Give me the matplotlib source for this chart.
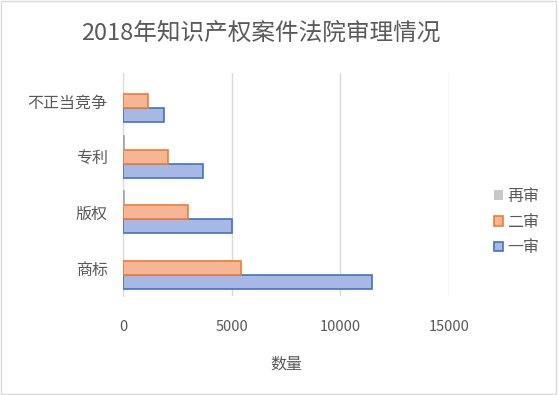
import matplotlib
matplotlib.use("Agg")
import matplotlib.pyplot as plt
import numpy as np
from matplotlib.patches import Rectangle

plt.rcParams['font.family'] = ['Noto Sans CJK SC', 'DejaVu Sans']

# data (bottom to top)
categories = ["商标", "版权", "专利", "不正当竞争"]
yishen = [11450, 5020, 3680, 1890]
ershen = [5430, 2990, 2070, 1150]
zaishen = [0, 50, 50, 0]

grey = "#595959"

fig = plt.figure(figsize=(5.58, 3.95), dpi=100)
ax = fig.add_axes([123/558, 1-296/395, (449-123)/558, (296-73)/395])

y = np.arange(len(categories))
h = 0.25
ax.barh(y - h, yishen, height=h, color="#a8b8e4", edgecolor="#4472c4", linewidth=1.2, label="一审", zorder=3)
ax.barh(y, ershen, height=h, color="#f6b696", edgecolor="#ed7d31", linewidth=1.2, label="二审", zorder=3)
ax.barh(y + h, zaishen, height=h, color="#c8c8c8", edgecolor="#a5a5a5",
        linewidth=[1.2 if v > 0 else 0 for v in zaishen], label="再审", zorder=3)

ax.set_xlim(0, 15000)
ax.set_ylim(-0.5, 3.5)
ax.set_xticks([0, 5000, 10000, 15000])
ax.set_yticks(y)
ax.set_yticklabels(categories)
ax.tick_params(axis="both", length=0, colors=grey, labelsize=10.5)
ax.tick_params(axis="y", labelsize=11.5, pad=11)
ax.tick_params(axis="x", pad=17)
ax.grid(axis="x", color="#d9d9d9", linewidth=1, zorder=0)
for s in ["top", "right", "bottom"]:
    ax.spines[s].set_visible(False)
ax.spines["left"].set_color("#d9d9d9")

ax.set_xlabel("数量", color=grey, fontsize=11.5, labelpad=16)
fig.suptitle("2018年知识产权案件法院审理情况", color=grey, fontsize=17, x=261/558, y=0.945)

handles, labels = ax.get_legend_handles_labels()
leg = fig.legend(handles[::-1], labels[::-1], loc="center left", bbox_to_anchor=(480/558, 1-222/395),
                 frameon=False, fontsize=11.5, labelcolor=grey, handlelength=0.55, handleheight=0.55,
                 handletextpad=0.25, labelspacing=0.55)

fig.patches.append(Rectangle((0.002, 0.003), 0.995, 0.994, transform=fig.transFigure,
                             fill=False, edgecolor="#d9d9d9", linewidth=1))

fig.savefig("out.png", dpi=100)
